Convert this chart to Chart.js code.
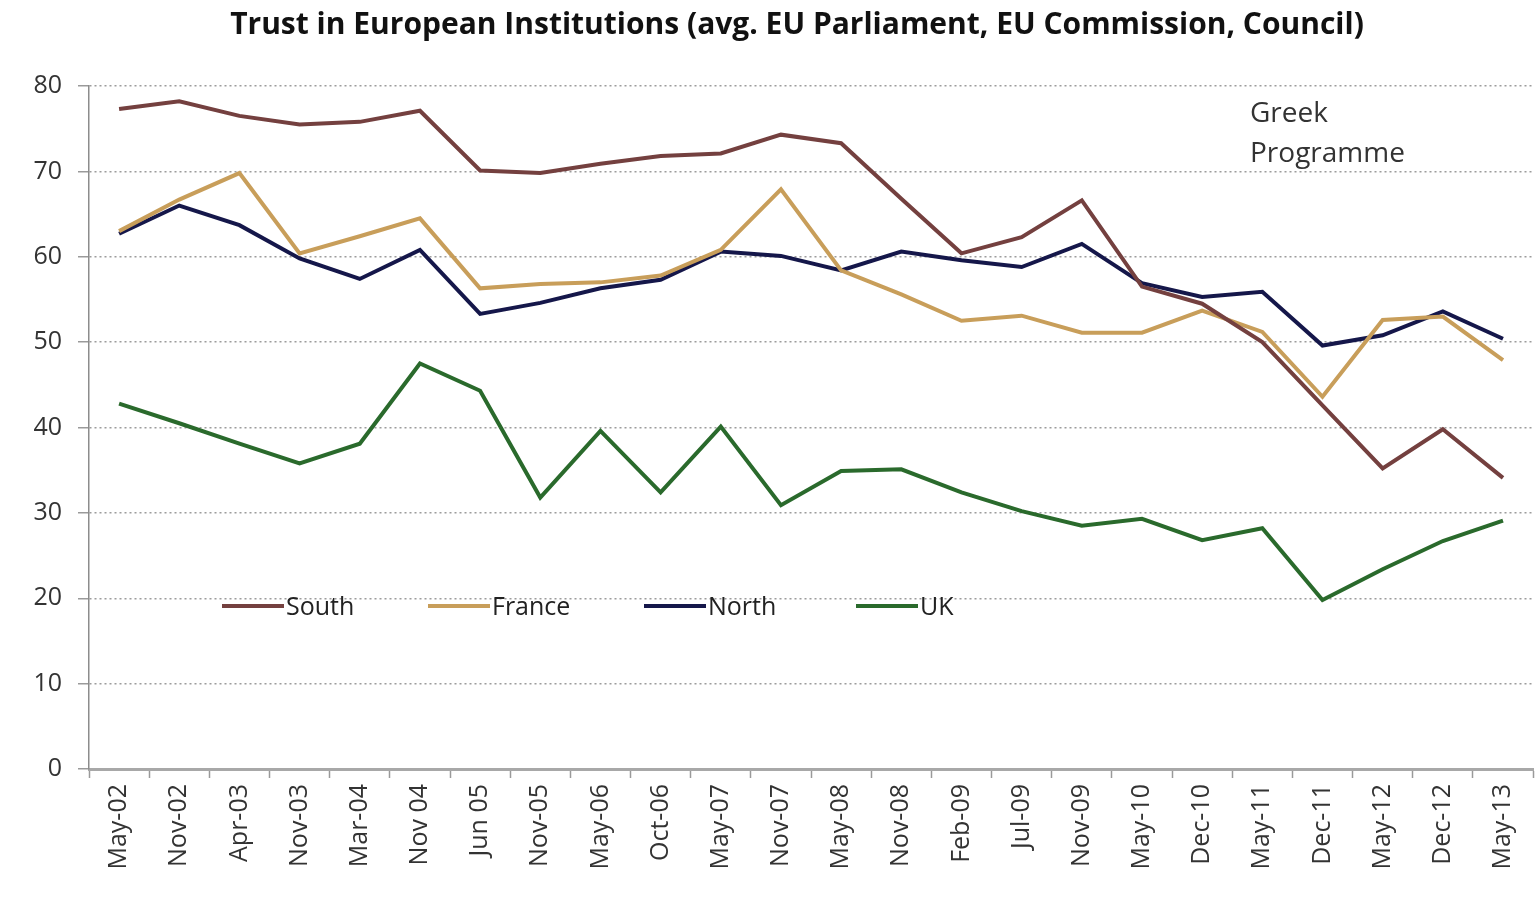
<!DOCTYPE html>
<html>
<head>
<meta charset="utf-8">
<title>Trust in European Institutions</title>
<script src="https://cdn.jsdelivr.net/npm/chart.js@4.4.1/dist/chart.umd.min.js"></script>
<style>
  html, body { margin: 0; padding: 0; background: #ffffff; overflow: hidden; }
  #wrap { width: 1539px; height: 897px; position: relative; }
</style>
</head>
<body>
<div id="wrap"><canvas id="trust" width="1539" height="897"></canvas></div>
<script>
// Survey waves (x axis)
const periods = ['May-02', 'Nov-02', 'Apr-03', 'Nov-03', 'Mar-04', 'Nov 04', 'Jun 05', 'Nov-05',
                 'May-06', 'Oct-06', 'May-07', 'Nov-07', 'May-08', 'Nov-08', 'Feb-09', 'Jul-09',
                 'Nov-09', 'May-10', 'Dec-10', 'May-11', 'Dec-11', 'May-12', 'Dec-12', 'May-13'];

// Average trust (%) in EU Parliament, EU Commission and Council
const south  = [77.3, 78.2, 76.5, 75.5, 75.8, 77.1, 70.1, 69.8, 70.9, 71.8, 72.1, 74.3,
                73.3, 66.8, 60.4, 62.3, 66.6, 56.5, 54.5, 50.0, 42.6, 35.2, 39.8, 34.1];
const france = [63.0, 66.7, 69.8, 60.4, 62.4, 64.5, 56.3, 56.8, 57.0, 57.8, 60.8, 67.9,
                58.4, 55.6, 52.5, 53.1, 51.1, 51.1, 53.7, 51.2, 43.6, 52.6, 53.0, 47.9];
const north  = [62.7, 66.0, 63.7, 59.8, 57.4, 60.8, 53.3, 54.6, 56.3, 57.3, 60.6, 60.1,
                58.4, 60.6, 59.6, 58.8, 61.5, 56.9, 55.3, 55.9, 49.6, 50.8, 53.6, 50.4];
const uk     = [42.8, 40.5, 38.1, 35.8, 38.1, 47.5, 44.3, 31.8, 39.6, 32.4, 40.1, 30.9,
                34.9, 35.1, 32.4, 30.2, 28.5, 29.3, 26.8, 28.2, 19.8, 23.4, 26.7, 29.1];

const seriesNames  = ['South', 'France', 'North', 'UK'];
const seriesValues = [south, france, north, uk];
const seriesColors = ['#74403f', '#c89e5a', '#15174a', '#2a6a2c'];

const yMin = 0, yMax = 80, yStep = 10;
const chartTitle = 'Trust in European Institutions (avg. EU Parliament, EU Commission, Council)';
const noteLines = ['Greek', 'Programme'];

const textFont = '"Open Sans", Lato, sans-serif';

// Heading, centred slightly right of the canvas middle
const heading = {
  id: 'heading',
  afterDraw(chart) {
    const { ctx } = chart;
    ctx.save();
    ctx.font = 'bold 30px ' + textFont;
    ctx.fillStyle = '#111';
    ctx.textAlign = 'center';
    ctx.textBaseline = 'middle';
    ctx.fillText(chartTitle, 797, 25);
    ctx.restore();
  }
};

// Legend drawn inside the plot, on one row just above the 20 line
const insideLegend = {
  id: 'insideLegend',
  afterDatasetsDraw(chart) {
    const { ctx, chartArea, scales } = chart;
    const yPix = scales.y.getPixelForValue(19.1);
    const slots = [133, 339, 555, 767];
    const sampleLen = 62;
    ctx.save();
    ctx.font = '25px ' + textFont;
    ctx.textBaseline = 'middle';
    ctx.textAlign = 'left';
    chart.data.datasets.forEach((ds, i) => {
      const x0 = chartArea.left + slots[i];
      ctx.strokeStyle = ds.borderColor;
      ctx.lineWidth = 4;
      ctx.beginPath();
      ctx.moveTo(x0, yPix);
      ctx.lineTo(x0 + sampleLen, yPix);
      ctx.stroke();
      ctx.fillStyle = '#222';
      ctx.fillText(ds.label, x0 + sampleLen + 2, yPix + 2);
    });
    ctx.restore();
  }
};

// "Greek Programme" note in the upper right of the plot
const programmeNote = {
  id: 'programmeNote',
  afterDatasetsDraw(chart) {
    const { ctx, chartArea } = chart;
    ctx.save();
    ctx.font = '28px ' + textFont;
    ctx.fillStyle = '#333';
    ctx.textBaseline = 'middle';
    ctx.textAlign = 'left';
    noteLines.forEach((t, i) => ctx.fillText(t, chartArea.left + 1161, chartArea.top + 28 + i * 40));
    ctx.restore();
  }
};

new Chart(document.getElementById('trust'), {
  type: 'line',
  data: {
    labels: periods,
    datasets: seriesNames.map((name, i) => ({
      label: name,
      data: seriesValues[i],
      borderColor: seriesColors[i],
      backgroundColor: seriesColors[i],
      borderWidth: 4,
      pointRadius: 0,
      tension: 0,
      fill: false
    }))
  },
  options: {
    responsive: false,
    animation: false,
    devicePixelRatio: 1,
    layout: { padding: { left: 0, right: 0, top: 86, bottom: 0 } },
    plugins: {
      legend: { display: false },
      tooltip: { enabled: false },
      title: { display: false }
    },
    scales: {
      x: {
        offset: true,
        grid: {
          offset: true,
          drawOnChartArea: false,
          drawTicks: true,
          tickLength: 9,
          tickColor: '#9a9a9a',
          tickWidth: 1.5
        },
        border: { display: true, color: '#a8a8a8', width: 3 },
        ticks: {
          autoSkip: false,
          maxRotation: 90,
          minRotation: 90,
          padding: 6,
          color: '#333',
          font: { family: textFont, size: 25 }
        },
        afterFit(scale) { scale.height = 128; }
      },
      y: {
        min: yMin,
        max: yMax,
        grid: {
          color: (c) => c.tick && c.tick.value === yMin ? 'rgba(0,0,0,0)' : '#9c9c9c',
          lineWidth: 1.5,
          drawTicks: true,
          tickLength: 11,
          tickColor: '#9a9a9a',
          tickBorderDash: []
        },
        border: { display: true, color: '#8c8c8c', width: 1.5, dash: [2, 3] },
        ticks: {
          stepSize: yStep,
          padding: 16,
          color: '#333',
          font: { family: textFont, size: 25 }
        },
        afterFit(scale) { scale.width = 89; }
      }
    }
  },
  plugins: [heading, insideLegend, programmeNote]
});
</script>
</body>
</html>
